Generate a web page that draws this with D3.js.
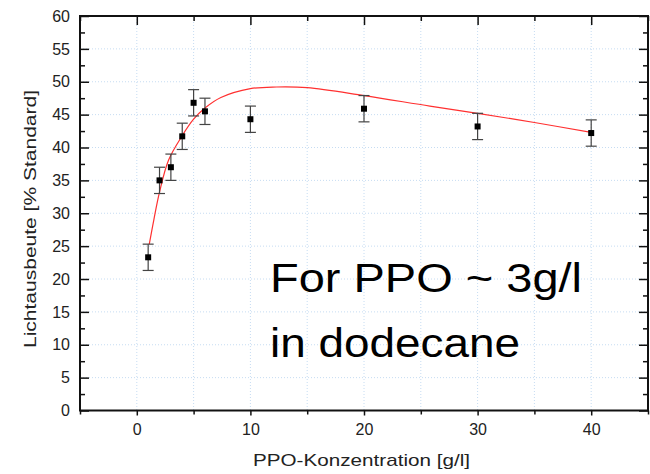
<!DOCTYPE html>
<html><head><meta charset="utf-8">
<script src="https://cdn.jsdelivr.net/npm/d3@7"></script>
<style>body{margin:0;background:#fff}svg{display:block}text{font-family:"Liberation Sans",Arial,sans-serif}</style>
</head><body><svg id="c" width="650" height="474"></svg>
<script>
const concentration = [1, 2, 3, 4, 5, 6, 10, 20, 30, 40];
const lightYield = [23.3, 35.0, 37.0, 41.7, 46.8, 45.5, 44.3, 45.9, 43.2, 42.2];
const yieldError = [2.0, 2.0, 2.0, 2.0, 2.0, 2.0, 2.0, 2.0, 2.0, 2.0];
const fitX = [1.1, 1.5, 2, 2.8, 4, 5, 6, 7.4, 10, 12.3, 15, 20, 25.8, 30, 35, 40];
const fitY = [25.3, 29.0, 33.2, 38.1, 41.8, 44.3, 46.0, 47.6, 48.95, 49.2, 49.1, 47.9, 46.3, 45.2, 43.8, 42.3];
const xTicks = [0, 10, 20, 30, 40];
const yTicks = [0, 5, 10, 15, 20, 25, 30, 35, 40, 45, 50, 55, 60];
const annotationLines = ["For PPO ~ 3g/l", "in dodecane"];

const svg = d3.select("#c");
const L = 80, R = 648, T = 16, B = 410.5;
const x = d3.scaleLinear().domain([-5, 45]).range([L, R]);
const y = d3.scaleLinear().domain([0, 60]).range([B, T]);

// grid
const gridColor = "#c6dcf2";
const gx = d3.range(0, 45, 5);
svg.append("g").selectAll("line").data(gx).join("line")
  .attr("x1", d => x(d)).attr("x2", d => x(d)).attr("y1", T).attr("y2", B)
  .attr("stroke", gridColor).attr("stroke-width", 1).attr("stroke-dasharray", "1,2");
svg.append("g").selectAll("line").data(yTicks.filter(d => d > 0 && d < 60)).join("line")
  .attr("y1", d => y(d)).attr("y2", d => y(d)).attr("x1", L).attr("x2", R)
  .attr("stroke", gridColor).attr("stroke-width", 1).attr("stroke-dasharray", "1,2");

// axes
const minorX = d3.range(-5, 46, 5).filter(d => d % 10 !== 0);
const minorY = d3.range(2.5, 60, 5);
function styleAxis(g) {
  g.select(".domain").remove();
  g.selectAll(".tick line").attr("stroke", "#111").attr("stroke-width", 1.5);
  g.selectAll(".tick text").attr("fill", "#222").attr("font-size", 16);
}
svg.append("g").attr("transform", `translate(0,${B})`)
  .call(d3.axisBottom(x).tickValues(xTicks).tickSize(5).tickPadding(8).tickFormat(d3.format("d")))
  .call(styleAxis);
svg.append("g").attr("transform", `translate(0,${B})`)
  .call(d3.axisBottom(x).tickValues(minorX).tickSize(4).tickFormat(""))
  .call(styleAxis);
svg.append("g").attr("transform", `translate(0,${T})`)
  .call(d3.axisBottom(x).tickValues(xTicks).tickSize(9).tickFormat(""))
  .call(styleAxis);
svg.append("g").attr("transform", `translate(0,${T})`)
  .call(d3.axisBottom(x).tickValues(minorX).tickSize(5).tickFormat(""))
  .call(styleAxis);
svg.append("g").attr("transform", `translate(${L},0)`)
  .call(d3.axisLeft(y).tickValues(yTicks).tickSize(0).tickPadding(10).tickFormat(d3.format("d")))
  .call(styleAxis);
svg.append("g").attr("transform", `translate(${L},0)`)
  .call(d3.axisRight(y).tickValues(yTicks).tickSize(9).tickFormat(""))
  .call(styleAxis);
svg.append("g").attr("transform", `translate(${L},0)`)
  .call(d3.axisRight(y).tickValues(minorY).tickSize(5).tickFormat(""))
  .call(styleAxis);
svg.append("g").attr("transform", `translate(${R},0)`)
  .call(d3.axisLeft(y).tickValues(yTicks).tickSize(9).tickFormat(""))
  .call(styleAxis);
svg.append("g").attr("transform", `translate(${R},0)`)
  .call(d3.axisLeft(y).tickValues(minorY).tickSize(5).tickFormat(""))
  .call(styleAxis);
svg.append("rect").attr("x", L).attr("y", T).attr("width", R - L).attr("height", B - T)
  .attr("fill", "none").attr("stroke", "#111").attr("stroke-width", 2);

// fit curve
const fit = fitX.map((d, i) => [d, fitY[i]]);
svg.append("path").datum(fit)
  .attr("d", d3.line().x(d => x(d[0])).y(d => y(d[1])).curve(d3.curveCatmullRom.alpha(0.5)))
  .attr("fill", "none").attr("stroke", "#ff3030").attr("stroke-width", 1.2);

// error bars
const pts = concentration.map((c, i) => ({c, v: lightYield[i], e: yieldError[i]}));
const eb = svg.append("g").attr("stroke", "#444").attr("stroke-width", 1.2);
eb.selectAll("line.v").data(pts).join("line").attr("class", "v")
  .attr("x1", d => x(d.c)).attr("x2", d => x(d.c)).attr("y1", d => y(d.v - d.e)).attr("y2", d => y(d.v + d.e));
eb.selectAll("line.t").data(pts).join("line").attr("class", "t")
  .attr("x1", d => x(d.c) - 5.5).attr("x2", d => x(d.c) + 5.5).attr("y1", d => y(d.v + d.e)).attr("y2", d => y(d.v + d.e));
eb.selectAll("line.b").data(pts).join("line").attr("class", "b")
  .attr("x1", d => x(d.c) - 5.5).attr("x2", d => x(d.c) + 5.5).attr("y1", d => y(d.v - d.e)).attr("y2", d => y(d.v - d.e));
svg.append("g").selectAll("rect").data(pts).join("rect")
  .attr("x", d => x(d.c) - 3).attr("y", d => y(d.v) - 3).attr("width", 6).attr("height", 6).attr("fill", "#000");

// titles
svg.append("text").attr("x", 253).attr("y", 466)
  .attr("font-size", 17).attr("fill", "#222")
  .attr("textLength", 217).attr("lengthAdjust", "spacingAndGlyphs").text("PPO-Konzentration [g/l]");
svg.append("text").attr("transform", `translate(36,348) rotate(-90)`)
  .attr("font-size", 17).attr("fill", "#222")
  .attr("textLength", 258).attr("lengthAdjust", "spacingAndGlyphs").text("Lichtausbeute [% Standard]");

// annotation
const annWidths = [312, 250];
svg.append("g").selectAll("text").data(annotationLines).join("text")
  .attr("x", 270).attr("y", (d, i) => 292 + i * 65)
  .attr("font-size", 41).attr("fill", "#000")
  .attr("textLength", (d, i) => annWidths[i]).attr("lengthAdjust", "spacingAndGlyphs")
  .text(d => d);
</script></body></html>
